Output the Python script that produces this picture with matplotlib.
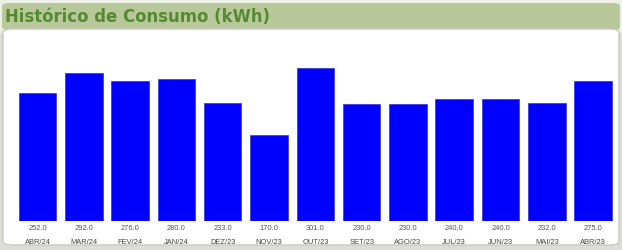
import matplotlib
matplotlib.use("Agg")
import matplotlib.pyplot as plt
from matplotlib.patches import FancyBboxPatch, Rectangle
from matplotlib.transforms import offset_copy

months = ["ABR/24", "MAR/24", "FEV/24", "JAN/24", "DEZ/23", "NOV/23", "OUT/23",
          "SET/23", "AGO/23", "JUL/23", "JUN/23", "MAI/23", "ABR/23"]
consumo = [252.0, 292.0, 276.0, 280.0, 233.0, 170.0, 301.0,
           230.0, 230.0, 240.0, 240.0, 232.0, 275.0]
title = "Histórico de Consumo (kWh)"

W, H = 622, 251
fig = plt.figure(figsize=(W / 100, H / 100), dpi=100)
fig.patch.set_facecolor("#e9eddf")

# background panels (figure pixel coords, from bottom)
fig.patches.append(Rectangle((0, 0), 1, 1, transform=fig.transFigure,
                             facecolor="#dcdcd8", edgecolor="none", zorder=0))
fig.patches.append(Rectangle((0, (H - 34) / H), 1, 34 / H, transform=fig.transFigure,
                             facecolor="#eef1e6", edgecolor="none", zorder=0))
fig.patches.append(FancyBboxPatch((2 / W, (H - 31) / H), (W - 4) / W, 27 / H,
                                  boxstyle="round,pad=0,rounding_size=0.012",
                                  transform=fig.transFigure, facecolor="#b9c89b",
                                  edgecolor="none", zorder=1))
fig.patches.append(FancyBboxPatch((3 / W, 5 / H), (W - 6) / W, (H - 35) / H,
                                  boxstyle="round,pad=0,rounding_size=0.015",
                                  transform=fig.transFigure, facecolor="white",
                                  edgecolor="#c8cbbf", linewidth=1.0, zorder=1))
fig.text(5 / W, (H - 17) / H, title, fontsize=11.9, fontweight="bold",
         color="#548a30", family="DejaVu Sans", va="center", ha="left", zorder=3)

left_px, right_px = 14.35, 616.3
bottom_px, top_px = 29, 211
ax = fig.add_axes([left_px / W, bottom_px / H, (right_px - left_px) / W,
                   (top_px - bottom_px) / H])
ax.set_zorder(2)
ax.patch.set_alpha(0)
x = list(range(len(months)))
ax.bar(x, consumo, width=0.81, color="#0000ff", edgecolor="#2020c0", linewidth=0.4)
ax.set_xlim(-0.5, len(months) - 0.5)
ax.set_ylim(0, 358)
for s in ax.spines.values():
    s.set_visible(False)
ax.set_yticks([])
ax.set_xticks(x)
ax.set_xticklabels(months, fontsize=5.4, color="#444444", family="Liberation Sans")
ax.tick_params(axis="x", length=0, pad=12.5)

lab_tr = offset_copy(ax.transData, fig=fig, x=0, y=-6.5, units="dots")
for xi, v in zip(x, consumo):
    ax.text(xi, 0, f"{v:.1f}", transform=lab_tr, ha="center", va="center",
            fontsize=5.4, color="#555555", family="Liberation Sans")

fig.savefig("out.png", dpi=100, facecolor=fig.get_facecolor())
